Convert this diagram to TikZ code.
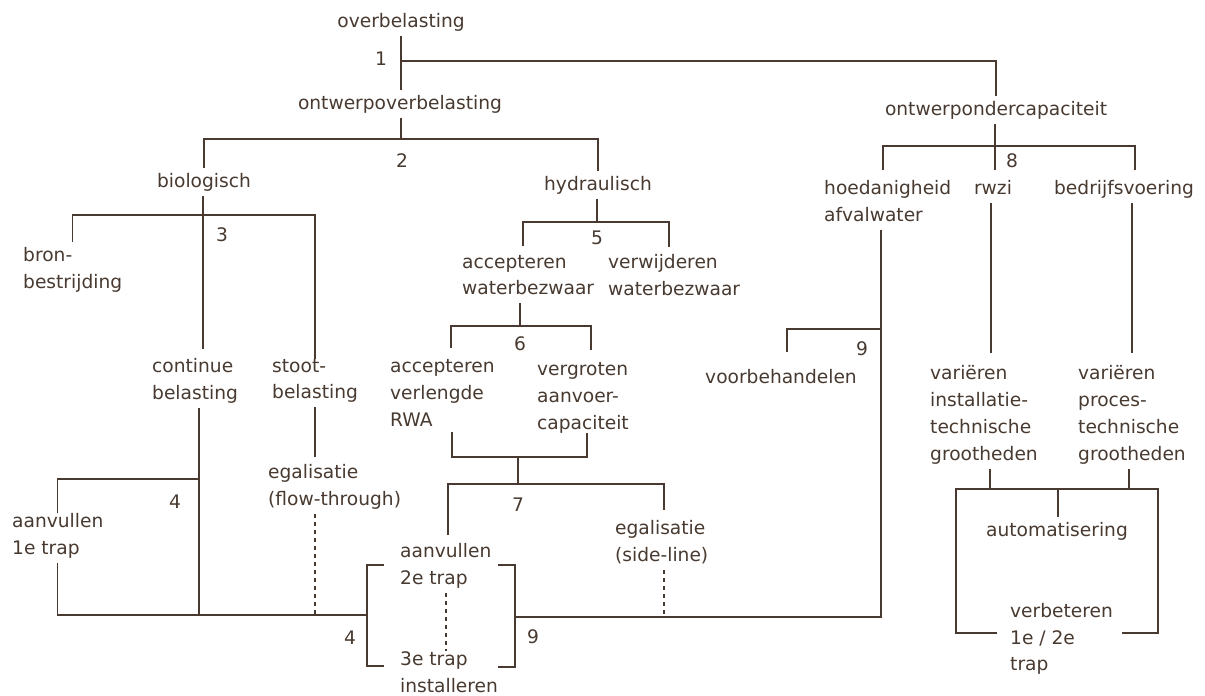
\documentclass[tikz,border=0pt]{standalone}
\usepackage{fontspec}
\setmainfont{DejaVu Sans}
\definecolor{ink}{RGB}{72,58,48}
\tikzset{
  txt/.style={inner sep=0pt, align=left, text=ink, font=\fontsize{18.7}{27}\selectfont,
    execute at begin node=\strut, execute at end node=\strut},
  ln/.style={draw=ink, line width=1.4bp},
  dsh/.style={draw=ink, line width=1.4bp, dash pattern=on 4bp off 4bp}
}
\begin{document}
\begin{tikzpicture}[x=1bp,y=-1bp]
\fill[white] (0,0) rectangle (1205,696);
\useasboundingbox (0,0) rectangle (1205,696);
% ---- text nodes
\node[txt] (over) at (401,22) {overbelasting};
\node[txt] (k1) at (381,60) {1};
\node[txt] (owo) at (400,104) {ontwerpoverbelasting};
\node[txt] (k2) at (402,162) {2};
\node[txt] (owc) at (996,110) {ontwerpondercapaciteit};
\node[txt] (k8) at (1012,162) {8};
\node[txt] (bio) at (204,182) {biologisch};
\node[txt] (hyd) at (598,185) {hydraulisch};
\node[txt,anchor=west] (hoe) at (824,205) {hoedanigheid\\afvalwater};
\node[txt] (rwzi) at (993,189) {rwzi};
\node[txt] (bed) at (1124,189) {bedrijfsvoering};
\node[txt] (k3) at (222,236) {3};
\node[txt,anchor=west] (bron) at (23,272) {bron-\\bestrijding};
\node[txt] (k5) at (597,239) {5};
\node[txt,anchor=west] (accw) at (462,279) {accepteren\\waterbezwaar};
\node[txt,anchor=west] (verw) at (608,279) {verwijderen\\waterbezwaar};
\node[txt] (k6) at (520,345) {6};
\node[txt] (k9a) at (862,350) {9};
\node[txt] (voor) at (781,378) {voorbehandelen};
\node[txt,anchor=west] (cont) at (152,383) {continue\\belasting};
\node[txt,anchor=west] (stoot) at (272,383) {stoot-\\belasting};
\node[txt,anchor=west] (accv) at (390,397) {accepteren\\verlengde\\RWA};
\node[txt,anchor=west] (verg) at (537,400) {vergroten\\aanvoer-\\capaciteit};
\node[txt,anchor=west] (varI) at (930,417) {variëren\\installatie-\\technische\\grootheden};
\node[txt,anchor=west] (varP) at (1078,417) {variëren\\proces-\\technische\\grootheden};
\node[txt,anchor=west] (egf) at (268,489) {egalisatie\\(flow-through)};
\node[txt] (k4a) at (175,503) {4};
\node[txt] (k7) at (518,506) {7};
\node[txt] (auto) at (1057,531) {automatisering};
\node[txt,anchor=west] (aan1) at (12,538) {aanvullen\\1e trap};
\node[txt,anchor=west] (egs) at (615,545) {egalisatie\\(side-line)};
\node[txt,anchor=west] (aan2) at (400,568) {aanvullen\\2e trap};
\node[txt] (k4b) at (350,639) {4};
\node[txt] (k9b) at (533,638) {9};
\node[txt,anchor=west] (verb) at (1010,641) {verbeteren\\1e / 2e\\trap};
\node[txt,anchor=west] (trap3) at (400,676) {3e trap\\installeren};
% ---- junction coordinates
\coordinate (j1) at (401,61);
\coordinate (j2) at (401,139);
\coordinate (j3) at (203,215);
\coordinate (j4) at (199,479);
\coordinate (j5) at (597,222);
\coordinate (a5) at (523,246);
\coordinate (b5) at (669,247);
\coordinate (j6) at (520,326);
\coordinate (a6) at (451,348);
\coordinate (b6) at (591,350);
\coordinate (c6l) at (452,432);
\coordinate (c6r) at (587,433);
\coordinate (j7t) at (518,457);
\coordinate (j7) at (518,484);
\coordinate (a7) at (448,535);
\coordinate (b7) at (664,510);
\coordinate (bL) at (367,615);
\coordinate (blt) at (384,565);
\coordinate (blb) at (384,666);
\coordinate (bR) at (515,617);
\coordinate (brt) at (498,565);
\coordinate (brb) at (498,667);
\coordinate (dmx) at (446,600);
\coordinate (e9) at (881,617);
\coordinate (j9) at (881,329);
\coordinate (v9) at (787,352);
\coordinate (j8) at (995,146);
\coordinate (h8) at (883,170);
\coordinate (b8) at (1135,170);
\coordinate (rw) at (991,353);
\coordinate (bd) at (1132,353);
\coordinate (g1) at (990,489);
\coordinate (g2) at (1129,489);
\coordinate (jA) at (1058,489);
\coordinate (bt1) at (956,489);
\coordinate (bt2) at (1158,489);
\coordinate (bxl) at (997,633);
\coordinate (bxr) at (1122,633);
% ---- connectors
\draw[ln] (j1 |- over.south) -- (j1 |- owo.north);
\draw[ln] (j1) -| (owc.north);
\draw[ln] (j2 |- owo.south) -- (j2);
\draw[ln] (bio.north) |- (j2) -| (hyd.north);
% biologisch
\draw[ln,shorten >=9bp] (j3 |- bio.south) -- (j3 |- cont.north);
\draw[ln,shorten <=5bp] (bron.north) |- (j3) -| (stoot.north);
\draw[ln] (j4 |- cont.south) -- (j4 |- bL);
\draw[ln] (aan1.north) |- (j4);
\draw[ln] (aan1.south) |- (bL);
\draw[ln,shorten >=7bp] (stoot.south) -- (stoot.south |- egf.north);
\draw[dsh] (stoot.south |- egf.south) -- (stoot.south |- bL);
% bracket
\draw[ln] (blt) -| (bL) |- (blb);
\draw[ln] (brt) -| (bR) |- (brb);
\draw[dsh] (aan2.south -| dmx) -- (trap3.north -| dmx);
% hydraulisch
\draw[ln] (j5 |- hyd.south) -- (j5);
\draw[ln] (a5) |- (j5) -| (b5);
\draw[ln] (j6 |- accw.south) -- (j6);
\draw[ln] (a6) |- (j6) -| (b6);
\draw[ln] (c6l) |- (j7t) -| (c6r);
\draw[ln] (j7t) -- (j7);
\draw[ln] (a7) |- (j7) -| (b7);
\draw[dsh] (b7 |- egs.south) -- (b7 |- e9);
% line 9
\draw[ln] (bR) -- (e9) -- (e9 |- hoe.south);
\draw[ln] (v9) |- (j9);
% ontwerpondercapaciteit
\draw[ln] (j8 |- owc.south) -- (j8 |- h8);
\draw[ln] (h8) |- (j8) -| (b8);
\draw[ln] (rw |- rwzi.south) -- (rw);
\draw[ln] (bd |- bed.south) -- (bd);
\draw[ln] (g1 |- varI.south) -- (g1);
\draw[ln] (g2 |- varP.south) -- (g2);
\draw[ln] (bxl) -| (bt1) -- (bt2) |- (bxr);
\draw[ln] (jA) -- (jA |- auto.north);
\end{tikzpicture}
\end{document}
